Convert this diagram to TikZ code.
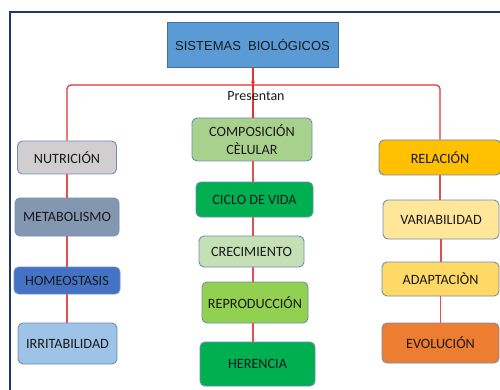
\documentclass[tikz,border=0pt]{standalone}
\usepackage{fontspec}
\setmainfont{Carlito}
\newfontfamily\arialf{Liberation Sans}
\usetikzlibrary{arrows.meta}
\definecolor{frame}{HTML}{1F3864}
\definecolor{lnk}{HTML}{E05050}
\definecolor{lnkdark}{HTML}{E03434}
\definecolor{bord}{HTML}{6F8DB5}
\definecolor{topbord}{HTML}{41719C}
\definecolor{txt}{HTML}{1A1A1A}
\tikzset{
  box/.style={draw=bord, line width=0.9pt, rounded corners=5pt, text=txt, font=\fontsize{14.2}{18}\selectfont, align=center, inner sep=0pt},
  link/.style={draw=lnk, line width=1.3pt},
  toplink/.style={draw=lnkdark, line width=1.2pt, rounded corners=4pt},
}
\begin{document}
\begin{tikzpicture}[x=1pt,y=-1pt]
\useasboundingbox (0,0) rectangle (500,390);
\fill[white] (0,0) rectangle (500,390);
\draw[frame, line width=2pt] (10,400) -- (10,12) -- (510,12);
% top
\node[draw=topbord, fill={rgb,255:red,91;green,155;blue,213}, minimum width=171pt, minimum height=45pt, text=txt, font=\arialf\fontsize{13}{15}\selectfont, inner sep=0pt] (top) at (252.5,44.5) {SISTEMAS\ \ BIOLÓGICOS};
% left column
\node[box, fill={rgb,255:red,208;green,206;blue,206}, minimum width=99pt, minimum height=33pt] (nut) at (67,157.5) {NUTRICIÓN};
\node[box, fill={rgb,255:red,132;green,151;blue,176}, minimum width=104pt, minimum height=38pt] (met) at (67,217) {METABOLISMO};
\node[box, fill={rgb,255:red,68;green,114;blue,196}, minimum width=106pt, minimum height=27pt] (hom) at (67,280.5) {HOMEOSTASIS};
\node[box, fill={rgb,255:red,157;green,195;blue,230}, minimum width=99pt, minimum height=41pt] (irr) at (67.5,343.5) {IRRITABILIDAD};
% middle column
\node[box, fill={rgb,255:red,169;green,209;blue,142}, minimum width=120pt, minimum height=43pt] (comp) at (252,139.5) {COMPOSICIÓN\\CÈLULAR};
\node[box, fill={rgb,255:red,0;green,176;blue,80}, minimum width=117pt, minimum height=35pt] (cic) at (254.5,199.5) {CICLO DE VIDA};
\node[box, fill={rgb,255:red,197;green,224;blue,180}, minimum width=105pt, minimum height=31pt] (cre) at (251.5,251.5) {CRECIMIENTO};
\node[box, fill={rgb,255:red,146;green,208;blue,80}, minimum width=106pt, minimum height=41pt] (rep) at (255,302.5) {REPRODUCCIÓN};
\node[box, fill={rgb,255:red,0;green,176;blue,80}, minimum width=115pt, minimum height=44pt] (her) at (257.5,364) {HERENCIA};
% right column
\node[box, fill={rgb,255:red,255;green,192;blue,0}, minimum width=122pt, minimum height=35pt] (rel) at (440,157.5) {RELACIÓN};
\node[box, fill={rgb,255:red,255;green,230;blue,153}, minimum width=116pt, minimum height=39pt] (var) at (441,219.5) {VARIABILIDAD};
\node[box, fill={rgb,255:red,255;green,217;blue,102}, minimum width=117pt, minimum height=34pt] (ada) at (440.5,279) {ADAPTACIÒN};
\node[box, fill={rgb,255:red,237;green,125;blue,49}, minimum width=117pt, minimum height=40pt] (evo) at (440.5,343) {EVOLUCIÓN};
% connectors
\coordinate (hy) at (253,85);
\coordinate (tip) at (253,78);
\draw[toplink] (nut.north) -- (nut.north |- hy) -- (rel.north |- hy) -- (rel.north);
\draw[toplink] (comp.north -| hy) -- (top.south -| hy);
\draw[lnkdark, line width=1.2pt, -{Stealth[length=5pt,width=4pt]}] (comp.north -| hy) -- (tip);
\node[text=txt, font=\fontsize{14}{16}\selectfont, inner sep=0pt] (pres) at (256,96) {Presentan};
\draw[link] (nut.south) -- (nut.south |- met.north);
\draw[link] (met.south) -- (met.south |- hom.north);
\draw[link] (hom.south) -- (hom.south |- irr.north);
\draw[link] (comp.south -| hy) -- (cic.north -| hy);
\draw[link] (cic.south -| hy) -- (cre.north -| hy);
\draw[link] (cre.south -| hy) -- (rep.north -| hy);
\draw[link] (rep.south -| hy) -- (her.north -| hy);
\draw[link] (rel.south) -- (rel.south |- var.north);
\draw[link] (var.south) -- (var.south |- ada.north);
\draw[link] (ada.south) -- (ada.south |- evo.north);
\end{tikzpicture}
\end{document}
